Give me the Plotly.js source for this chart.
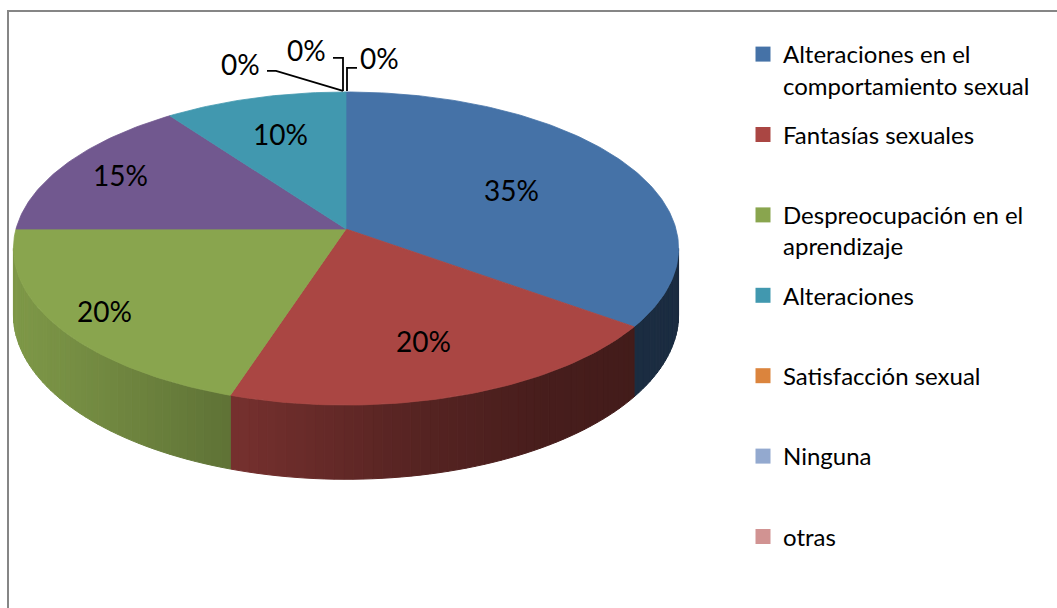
<!DOCTYPE html>
<html>
<head>
<meta charset="utf-8">
<script src="https://cdn.plot.ly/plotly-3.0.1.min.js"></script>
<style>html,body{margin:0;padding:0;background:#fff;}#chart{width:1057px;height:608px;}</style>
</head>
<body>
<div id="chart"></div>
<script>
// ---- data ----
const categories = ['Alteraciones en el comportamiento sexual', 'Fantasías sexuales', 'Despreocupación en el aprendizaje', '', 'Alteraciones', 'Satisfacción sexual', 'Ninguna', 'otras'];
const values = [35, 20, 20, 15, 10, 0, 0, 0];
const legendLabels = ['Alteraciones en el<br>comportamiento sexual', 'Fantasías sexuales<br> ', 'Despreocupación en el<br>aprendizaje', null, 'Alteraciones<br> ', 'Satisfacción sexual<br> ', 'Ninguna<br> ', 'otras<br> '];
const colors = ['#4572A7', '#AA4643', '#89A54E', '#71588F', '#4198AF', '#DB843D', '#93A9CF', '#D19392'];

// ---- style / geometry ----
const W = 1057, H = 608;
const G = {cx: 346, cy: 229, a: 330, b: 154.1, k: 0.1246, h: 65};
const labelRadius = [0.58, 0.70, 0.85, 0.80, 0.70];
// zero-slice labels: offsets from the slice anchor (px) and leader-line elbows
const zeroLabelOffsets = [[-106, -28], [-40, -42], [33, -34]];
const zeroLeaders = [
  [[-3, -1], [-70, -21], [-79, -21]],
  [[-3, -1], [-3, -34], [-13, -34]],
  [[1, -1], [1, -24], [11, -24]]
];
const shadeStops = [[0, 0.92], [0.33, 0.69], [0.58, 0.52], [0.8, 0.42], [1, 0.38]];
const FONT = 'Lato, "Open Sans", sans-serif';

function proj(th, r, down) {
  const u = r * Math.sin(th), v = r * Math.cos(th);
  const d = 1 + G.k * v;
  return [G.cx + G.a * u / d, G.cy - G.b * v / d + (down || 0) / d];
}
function hexToRgb(h) { return [1, 3, 5].map(i => parseInt(h.substr(i, 2), 16)); }
function shade(hex, f) {
  const c = hexToRgb(hex).map(v => Math.round(Math.max(0, Math.min(255, v * f))));
  return 'rgb(' + c.join(',') + ')';
}
function shadeFactor(x) {
  const t = (x - (G.cx - G.a)) / (2 * G.a);
  for (let i = 1; i < shadeStops.length; i++) {
    if (t <= shadeStops[i][0]) {
      const [t0, f0] = shadeStops[i - 1], [t1, f1] = shadeStops[i];
      return f0 + (f1 - f0) * (Math.max(t, t0) - t0) / (t1 - t0);
    }
  }
  return shadeStops[shadeStops.length - 1][1];
}

const total = values.reduce((s, v) => s + v, 0);
const starts = [];
let acc = 0;
values.forEach(v => { starts.push(acc); acc += v; });
const toAng = p => p / total * 2 * Math.PI;

const traces = [];
const wallStart = Math.acos(-G.k), wallEnd = 2 * Math.PI - Math.acos(-G.k);
const step = Math.PI / 120;

// side walls
values.forEach((v, i) => {
  if (v <= 0) return;
  const t0 = Math.max(toAng(starts[i]), wallStart), t1 = Math.min(toAng(starts[i] + v), wallEnd);
  if (t1 <= t0) return;
  const n = Math.max(1, Math.ceil((t1 - t0) / step));
  for (let j = 0; j < n; j++) {
    const a0 = t0 + (t1 - t0) * j / n, a1 = t0 + (t1 - t0) * (j + 1) / n;
    const p0 = proj(a0, 1, 0), p1 = proj(a1, 1, 0), q1 = proj(a1, 1, G.h), q0 = proj(a0, 1, G.h);
    const col = shade(colors[i], shadeFactor((p0[0] + p1[0]) / 2));
    traces.push({
      type: 'scatter', mode: 'lines', x: [p0[0], p1[0], q1[0], q0[0], p0[0]], y: [p0[1], p1[1], q1[1], q0[1], p0[1]],
      fill: 'toself', fillcolor: col, line: {color: col, width: 1}, hoverinfo: 'skip', showlegend: false
    });
  }
});

// top surfaces
values.forEach((v, i) => {
  if (v <= 0) return;
  const t0 = toAng(starts[i]), t1 = toAng(starts[i] + v);
  const n = Math.max(2, Math.ceil((t1 - t0) / (Math.PI / 180)));
  const xs = [G.cx], ys = [G.cy];
  for (let j = 0; j <= n; j++) {
    const p = proj(t0 + (t1 - t0) * j / n, 1, 0);
    xs.push(p[0]); ys.push(p[1]);
  }
  xs.push(G.cx); ys.push(G.cy);
  traces.push({
    type: 'scatter', mode: 'lines', x: xs, y: ys, fill: 'toself', fillcolor: colors[i],
    line: {color: colors[i], width: 0.8}, hoverinfo: 'skip', showlegend: false
  });
});

// leader lines for zero slices
let zi = 0;
values.forEach((v, i) => {
  if (v > 0) return;
  const anchor = proj(toAng(starts[i]), 1, 0);
  const path = zeroLeaders[zi++];
  traces.push({
    type: 'scatter', mode: 'lines', x: path.map(p => anchor[0] + p[0]), y: path.map(p => anchor[1] + p[1]),
    line: {color: '#000', width: 1.8}, hoverinfo: 'skip', showlegend: false
  });
});

// legend entries
values.forEach((v, i) => {
  if (!legendLabels[i]) return;
  traces.push({
    type: 'scatter', mode: 'markers', x: [null], y: [null], name: legendLabels[i], legendgroup: 'g' + i,
    marker: {symbol: 'square', size: 15, color: colors[i]}, hoverinfo: 'skip', showlegend: true
  });
});

// labels
const annotations = [];
zi = 0;
values.forEach((v, i) => {
  const pct = Math.round(v / total * 100) + '%';
  if (v > 0) {
    const p = proj(toAng(starts[i] + v / 2), labelRadius[i], 0);
    annotations.push({x: p[0], y: p[1], xref: 'x', yref: 'y', text: pct, showarrow: false, font: {size: 28, color: '#000', family: FONT}});
  } else {
    const anchor = proj(toAng(starts[i]), 1, 0);
    const o = zeroLabelOffsets[zi++];
    annotations.push({x: anchor[0] + o[0], y: anchor[1] + o[1], xref: 'x', yref: 'y', text: pct, showarrow: false, font: {size: 28, color: '#000', family: FONT}});
  }
});

const layout = {
  width: W, height: H,
  margin: {l: 0, r: 0, t: 0, b: 0, pad: 0},
  paper_bgcolor: '#fff', plot_bgcolor: '#fff',
  font: {family: FONT, color: '#000'},
  xaxis: {range: [0, W], visible: false, fixedrange: true},
  yaxis: {range: [H, 0], visible: false, fixedrange: true},
  showlegend: true,
  legend: {
    x: 743 / W, xanchor: 'left', y: 1 - 32 / H, yanchor: 'top',
    font: {size: 24, color: '#000', family: FONT}, bgcolor: 'rgba(0,0,0,0)',
    tracegroupgap: 15, valign: 'top', itemclick: false, itemdoubleclick: false
  },
  shapes: [{type: 'rect', xref: 'x', yref: 'y', x0: 8, y0: 11, x1: W + 20, y1: H + 20, line: {color: '#868686', width: 2}}],
  annotations: annotations
};

Plotly.newPlot('chart', traces, layout, {staticPlot: true, displayModeBar: false});
</script>
</body>
</html>
